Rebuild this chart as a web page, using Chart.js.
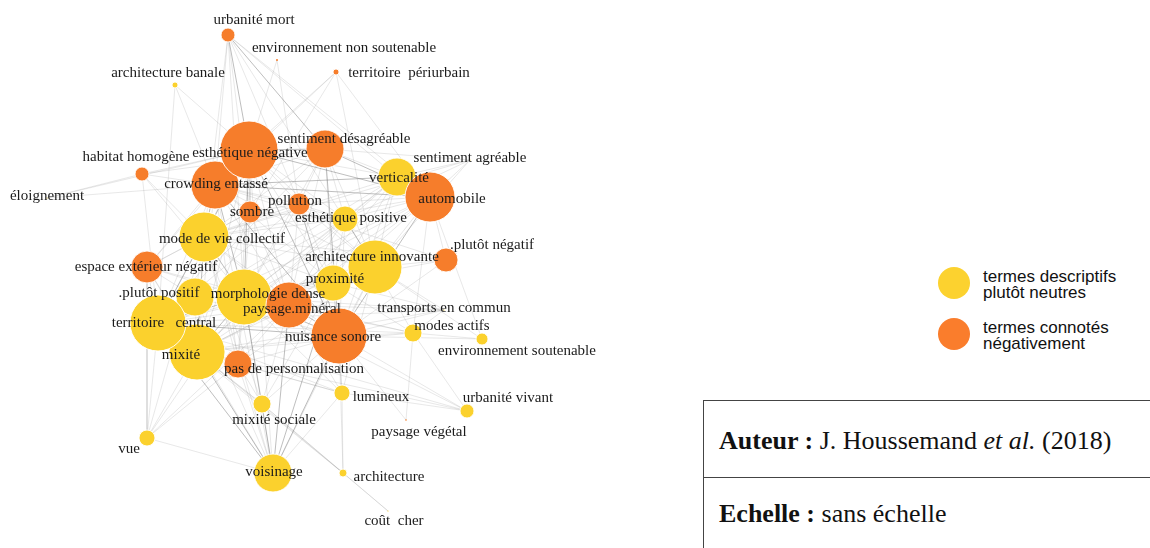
<!DOCTYPE html>
<html>
<head>
<meta charset="utf-8">
<script src="https://cdn.jsdelivr.net/npm/chart.js@4.4.1/dist/chart.umd.min.js"></script>
<style>
  html, body { margin: 0; padding: 0; background: #fff; width: 1150px; height: 548px; overflow: hidden; }
  #wrap { position: absolute; left: 0; top: 0; width: 620px; height: 548px; }
  .leg-dot { position: absolute; width: 32px; height: 32px; border-radius: 50%; }
  .leg-txt { position: absolute; left: 983px; font-family: "Liberation Sans", Arial, Helvetica, sans-serif; font-size: 17px; line-height: 16px; color: #111; }
  #box { position: absolute; left: 703px; top: 400px; width: 470px; height: 170px; border: 1.5px solid #444; box-sizing: border-box; }
  #divider { position: absolute; left: 703px; top: 477px; width: 460px; height: 0; border-top: 1.5px solid #444; }
  .row { position: absolute; left: 719px; font-family: "Liberation Serif", "Times New Roman", serif; font-size: 26px; color: #111; white-space: nowrap; line-height: 28px; }
</style>
</head>
<body>
<div id="wrap"><canvas id="c"></canvas></div>

<div class="leg-dot" style="left:938px; top:267px; background:#FCD22F;"></div>
<div class="leg-txt" style="top:269px;">termes descriptifs<br>plutôt neutres</div>
<div class="leg-dot" style="left:938px; top:318px; background:#FA7D2C;"></div>
<div class="leg-txt" style="top:320px;">termes connotés<br>négativement</div>

<div id="box"></div>
<div id="divider"></div>
<div class="row" style="top:427px;"><b>Auteur :</b> J. Houssemand <i>et al.</i> (2018)</div>
<div class="row" style="top:500px;"><b>Echelle :</b> sans échelle</div>

<script>
// ---- Data: network nodes (terms), layout coordinates, frequency (size), connotation ----
const terms = [
  "urbanité mort", "environnement non soutenable", "architecture banale", "territoire  périurbain",
  "habitat homogène", "crowding entassé", "esthétique négative", "sentiment désagréable",
  "sentiment agréable", "verticalité", "éloignement", "automobile", "pollution", "sombre",
  "esthétique positive", "mode de vie collectif", ".plutôt négatif", "architecture innovante",
  "espace extérieur négatif", "proximité", ".plutôt positif", "morphologie dense", "paysage.minéral",
  "transports en commun", "mixité", "territoire   central", "nuisance sonore", "modes actifs",
  "environnement soutenable", "pas de personnalisation", "lumineux", "urbanité vivant",
  "mixité sociale", "paysage végétal", "vue", "voisinage", "architecture", "coût  cher"
];
const layoutX = [228, 277, 175, 336, 142, 215, 249, 325, 470, 397, 47, 430, 299, 250, 345, 204, 446, 375,
  147, 333, 195, 244, 289, 444, 197, 158, 339, 413, 482, 238, 342, 467, 262, 406, 147, 273, 343, 388];
const layoutY = [35, 60, 85, 72, 174, 185, 150, 149, 160, 177, 198, 197, 204, 212, 219, 237, 260, 267,
  267, 283, 297, 297, 305, 310, 352, 323, 336, 333, 339, 364, 393, 411, 404, 420, 438, 473, 473, 511];
const frequency = [7, 1, 3, 3, 7, 24, 29, 19, 0.6, 19, 0.6, 25, 11, 11, 13, 25, 12, 27,
  16, 18, 19, 28, 23, 0.6, 28, 28, 28, 9, 6, 14, 8, 7, 9, 0.8, 8, 19, 4, 0.6];
const connotation = ["neg", "neg", "neu", "neg", "neg", "neg", "neg", "neg", "neu", "neu", "neu", "neg",
  "neg", "neg", "neu", "neu", "neg", "neu", "neg", "neu", "neu", "neu", "neg", "neu", "neu", "neu",
  "neg", "neu", "neu", "neg", "neu", "neu", "neu", "neg", "neu", "neu", "neu", "neu"];

// ---- Data: co-occurrence edges [source, target, strength] ----
const edges = [
  ["urbanité mort","esthétique négative",2],["urbanité mort","crowding entassé",1],["urbanité mort","sombre",1],
  ["urbanité mort","mode de vie collectif",1],["urbanité mort","sentiment désagréable",2],["urbanité mort","verticalité",1],
  ["urbanité mort","automobile",1],["urbanité mort","proximité",1],["urbanité mort","architecture innovante",1],["urbanité mort","morphologie dense",1],
  ["environnement non soutenable","esthétique négative",1],["environnement non soutenable","pollution",1],
  ["architecture banale","esthétique négative",1],["architecture banale","territoire   central",1],["architecture banale","crowding entassé",1],
  ["territoire  périurbain","esthétique négative",1],["territoire  périurbain","crowding entassé",1],["territoire  périurbain","sombre",1],
  ["territoire  périurbain","automobile",1],["territoire  périurbain","architecture innovante",1],
  ["habitat homogène","esthétique négative",1],["habitat homogène","crowding entassé",1],["habitat homogène","éloignement",1],
  ["habitat homogène","mode de vie collectif",1],["habitat homogène","territoire   central",1],["habitat homogène","morphologie dense",1],["habitat homogène","sentiment désagréable",1],
  ["éloignement","crowding entassé",1],["éloignement","esthétique négative",1],
  ["esthétique négative","sentiment désagréable",2],["esthétique négative","crowding entassé",2],["esthétique négative","verticalité",1],
  ["esthétique négative","automobile",2],["esthétique négative","pollution",1],["esthétique négative","sombre",1],["esthétique négative","esthétique positive",1],
  ["esthétique négative","mode de vie collectif",2],["esthétique négative","architecture innovante",1],["esthétique négative","espace extérieur négatif",1],
  ["esthétique négative","proximité",1],["esthétique négative","morphologie dense",2],["esthétique négative","paysage.minéral",1],
  ["esthétique négative","territoire   central",1],["esthétique négative","nuisance sonore",2],["esthétique négative","mixité",1],
  ["esthétique négative","pas de personnalisation",1],["esthétique négative","voisinage",1],
  ["sentiment désagréable","crowding entassé",1],["sentiment désagréable","verticalité",1],["sentiment désagréable","automobile",2],
  ["sentiment désagréable","pollution",1],["sentiment désagréable","esthétique positive",1],["sentiment désagréable","mode de vie collectif",1],
  ["sentiment désagréable","architecture innovante",1],["sentiment désagréable","proximité",1],["sentiment désagréable","morphologie dense",1],
  ["sentiment désagréable","paysage.minéral",1],["sentiment désagréable","nuisance sonore",2],["sentiment désagréable","sentiment agréable",1],["sentiment désagréable","territoire   central",1],
  ["sentiment agréable","verticalité",1],["sentiment agréable","automobile",1],["sentiment agréable","esthétique positive",1],
  ["sentiment agréable","architecture innovante",1],["sentiment agréable","mode de vie collectif",1],
  ["verticalité","crowding entassé",2],["verticalité","automobile",2],["verticalité","esthétique positive",1],["verticalité","architecture innovante",1],
  ["verticalité","proximité",1],["verticalité","morphologie dense",1],["verticalité","mode de vie collectif",1],["verticalité","nuisance sonore",1],
  ["verticalité","territoire   central",1],["verticalité","mixité",1],["verticalité","paysage.minéral",1],
  ["crowding entassé","automobile",2],["crowding entassé","pollution",1],["crowding entassé","sombre",1],["crowding entassé","esthétique positive",1],
  ["crowding entassé","mode de vie collectif",2],["crowding entassé","espace extérieur négatif",1],["crowding entassé","architecture innovante",1],
  ["crowding entassé","proximité",1],["crowding entassé","morphologie dense",2],["crowding entassé","paysage.minéral",1],
  ["crowding entassé","territoire   central",1],["crowding entassé","nuisance sonore",2],["crowding entassé","mixité",1],
  ["crowding entassé","pas de personnalisation",1],["crowding entassé","voisinage",1],
  ["automobile","pollution",1],["automobile","esthétique positive",1],["automobile","architecture innovante",1],["automobile","proximité",1],
  ["automobile","morphologie dense",1],["automobile","paysage.minéral",1],["automobile","nuisance sonore",2],["automobile","mode de vie collectif",1],
  ["automobile","territoire   central",1],["automobile","mixité",1],["automobile","environnement soutenable",1],["automobile","modes actifs",1],["automobile",".plutôt négatif",1],
  ["pollution","sombre",1],["pollution","esthétique positive",1],["pollution","mode de vie collectif",1],["pollution","architecture innovante",1],
  ["pollution","morphologie dense",1],["pollution","paysage.minéral",1],["pollution","nuisance sonore",2],["pollution","territoire   central",1],
  ["sombre","mode de vie collectif",1],["sombre","esthétique positive",1],["sombre","morphologie dense",1],["sombre","paysage.minéral",1],
  ["sombre","espace extérieur négatif",1],["sombre","territoire   central",1],["sombre","mixité",1],
  ["esthétique positive","mode de vie collectif",1],["esthétique positive","architecture innovante",2],["esthétique positive","proximité",1],
  ["esthétique positive","morphologie dense",1],["esthétique positive","paysage.minéral",1],["esthétique positive","nuisance sonore",1],
  ["esthétique positive","mixité",1],["esthétique positive","territoire   central",1],
  ["mode de vie collectif","espace extérieur négatif",1],["mode de vie collectif","architecture innovante",1],["mode de vie collectif","proximité",1],
  ["mode de vie collectif",".plutôt positif",1],["mode de vie collectif","morphologie dense",2],["mode de vie collectif","paysage.minéral",1],
  ["mode de vie collectif","territoire   central",2],["mode de vie collectif","nuisance sonore",1],["mode de vie collectif","mixité",2],
  ["mode de vie collectif","pas de personnalisation",1],["mode de vie collectif","voisinage",1],["mode de vie collectif","vue",1],["mode de vie collectif","mixité sociale",1],
  [".plutôt négatif","architecture innovante",1],[".plutôt négatif","nuisance sonore",1],[".plutôt négatif","crowding entassé",1],
  [".plutôt négatif","mode de vie collectif",1],[".plutôt négatif","morphologie dense",1],
  ["architecture innovante","proximité",1],["architecture innovante","morphologie dense",2],["architecture innovante","paysage.minéral",1],
  ["architecture innovante","nuisance sonore",1],["architecture innovante","territoire   central",1],["architecture innovante","mixité",1],
  ["architecture innovante","modes actifs",1],["architecture innovante","transports en commun",1],["architecture innovante","pas de personnalisation",1],
  ["architecture innovante","voisinage",1],["architecture innovante","lumineux",1],["architecture innovante","environnement soutenable",1],
  ["espace extérieur négatif",".plutôt positif",1],["espace extérieur négatif","morphologie dense",1],["espace extérieur négatif","territoire   central",1],
  ["espace extérieur négatif","mixité",1],["espace extérieur négatif","paysage.minéral",1],["espace extérieur négatif","vue",1],["espace extérieur négatif","voisinage",1],
  ["proximité","morphologie dense",1],["proximité","paysage.minéral",1],["proximité","nuisance sonore",1],["proximité","territoire   central",1],
  ["proximité","mixité",1],["proximité","modes actifs",1],["proximité","transports en commun",1],["proximité","voisinage",2],
  ["proximité","mixité sociale",1],["proximité","lumineux",1],
  [".plutôt positif","morphologie dense",1],[".plutôt positif","territoire   central",1],[".plutôt positif","mixité",1],
  [".plutôt positif","paysage.minéral",1],[".plutôt positif","nuisance sonore",1],[".plutôt positif","voisinage",1],
  ["morphologie dense","paysage.minéral",2],["morphologie dense","territoire   central",2],["morphologie dense","nuisance sonore",2],
  ["morphologie dense","mixité",2],["morphologie dense","pas de personnalisation",1],["morphologie dense","voisinage",2],
  ["morphologie dense","mixité sociale",1],["morphologie dense","lumineux",1],["morphologie dense","vue",1],["morphologie dense","transports en commun",1],
  ["morphologie dense","modes actifs",1],["morphologie dense","urbanité vivant",1],
  ["paysage.minéral","territoire   central",1],["paysage.minéral","nuisance sonore",2],["paysage.minéral","mixité",1],["paysage.minéral","pas de personnalisation",1],
  ["paysage.minéral","voisinage",2],["paysage.minéral","mixité sociale",1],["paysage.minéral","lumineux",1],["paysage.minéral","transports en commun",1],["paysage.minéral","modes actifs",1],
  ["transports en commun","nuisance sonore",1],["transports en commun","modes actifs",1],["transports en commun","territoire   central",1],["transports en commun","mixité",1],
  ["territoire   central","nuisance sonore",2],["territoire   central","mixité",2],["territoire   central","pas de personnalisation",1],
  ["territoire   central","voisinage",2],["territoire   central","vue",1],["territoire   central","mixité sociale",1],["territoire   central","lumineux",1],
  ["territoire   central","modes actifs",1],["territoire   central","urbanité vivant",1],["territoire   central","architecture",1],
  ["nuisance sonore","mixité",1],["nuisance sonore","modes actifs",1],["nuisance sonore","environnement soutenable",1],["nuisance sonore","pas de personnalisation",1],
  ["nuisance sonore","voisinage",2],["nuisance sonore","lumineux",1],["nuisance sonore","mixité sociale",1],["nuisance sonore","urbanité vivant",1],
  ["nuisance sonore","architecture",1],["nuisance sonore","paysage végétal",1],
  ["modes actifs","environnement soutenable",1],["modes actifs","mixité",1],["modes actifs","urbanité vivant",1],["modes actifs","paysage végétal",1],
  ["mixité","pas de personnalisation",1],["mixité","voisinage",2],["mixité","vue",1],["mixité","mixité sociale",1],["mixité","lumineux",1],
  ["mixité","urbanité vivant",1],["mixité","architecture",1],
  ["pas de personnalisation","voisinage",1],["pas de personnalisation","mixité sociale",1],["pas de personnalisation","vue",1],["pas de personnalisation","lumineux",1],
  ["lumineux","voisinage",1],["lumineux","urbanité vivant",1],["lumineux","architecture",1],
  ["mixité sociale","voisinage",1],["mixité sociale","architecture",1],
  ["vue","paysage.minéral",1],["vue","voisinage",1],
  ["architecture","coût  cher",1],["mixité sociale","coût  cher",1]
];

// ---- Style (not data) ----
const colorNeutral = "#FBD12D";
const colorNegative = "#F67D2B";
const labelOffsetX = [26, 67, -7, 73, -6, 1, 1, 19, 0, 2, 0, 22, -4, 2, 6, 18, 46, -3, -1, 2, -36, 24, 3, 0, -16, 6, -6, 39, 35, 56, 39, 41, 12, 13, -18, 1, 46, 6];
const labelOffsetY = [-15, -12, -12, 1, -17, -1, 3, -10, -2, 1, -2, 2, -3, 0, -1, 2, -15, -10, 0, -4, -4, -3, 4, -2, 3, 0, 1, -7, 12, 5, 4, -13, 16, 12, 11, -1, 4, 10];

const idx = name => terms.indexOf(name);

const edgeDatasets = edges.map(([a, b, w]) => {
  const i = idx(a), j = idx(b);
  return {
    type: 'line',
    data: [{ x: layoutX[i], y: layoutY[i] }, { x: layoutX[j], y: layoutY[j] }],
    borderColor: w > 1 ? 'rgba(110,110,110,0.45)' : 'rgba(150,150,150,0.28)',
    borderWidth: w > 1 ? 1 : 0.8,
    pointRadius: 0,
    fill: false,
    tension: 0,
    order: 2,
    clip: false
  };
});

const nodeDataset = {
  type: 'bubble',
  data: terms.map((t, i) => ({ x: layoutX[i], y: layoutY[i], r: frequency[i] })),
  backgroundColor: terms.map((t, i) => connotation[i] === 'neg' ? colorNegative : colorNeutral),
  borderColor: terms.map((t, i) => frequency[i] < 2 ? 'rgba(0,0,0,0)' : 'rgba(255,255,255,0.9)'),
  borderWidth: 1,
  hoverRadius: 0,
  order: 0,
  clip: false
};

const labelPlugin = {
  id: 'nodeLabels',
  afterDatasetsDraw(chart) {
    const ctx = chart.ctx;
    const xs = chart.scales.x, ys = chart.scales.y;
    ctx.save();
    ctx.font = '15px "Liberation Serif", "Times New Roman", serif';
    ctx.fillStyle = '#1b1b1b';
    ctx.textAlign = 'center';
    ctx.textBaseline = 'middle';
    terms.forEach((t, i) => {
      const px = xs.getPixelForValue(layoutX[i]) + labelOffsetX[i];
      const py = ys.getPixelForValue(layoutY[i]) + labelOffsetY[i];
      ctx.fillText(t, px, py);
    });
    ctx.restore();
  }
};

new Chart(document.getElementById('c'), {
  type: 'bubble',
  data: { datasets: [nodeDataset, ...edgeDatasets] },
  options: {
    responsive: true,
    maintainAspectRatio: false,
    animation: false,
    events: [],
    layout: { padding: 0, autoPadding: false },
    plugins: { legend: { display: false }, tooltip: { enabled: false } },
    scales: {
      x: { type: 'linear', min: 0, max: 620, display: false },
      y: { type: 'linear', min: 0, max: 548, reverse: true, display: false }
    }
  },
  plugins: [labelPlugin]
});
</script>
</body>
</html>
